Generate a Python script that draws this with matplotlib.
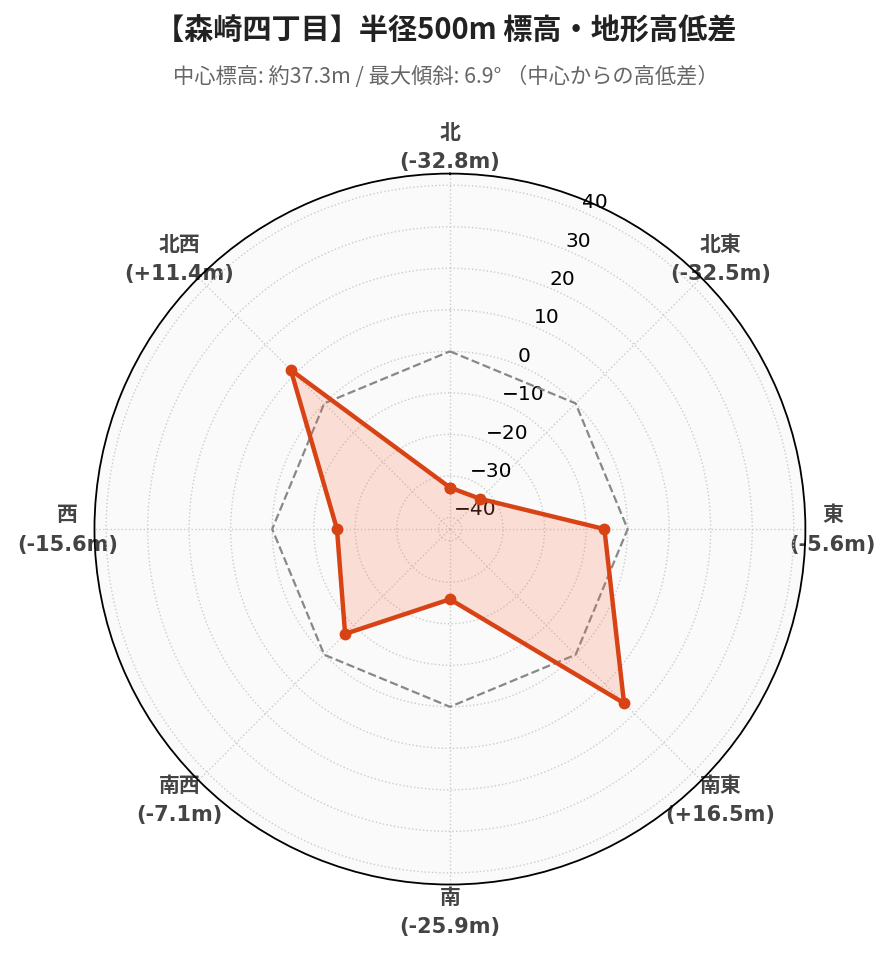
import numpy as np
import matplotlib
matplotlib.use('Agg')
import matplotlib.pyplot as plt

plt.rcParams['font.family'] = ['DejaVu Sans', 'Noto Sans CJK JP']

# data
directions = ['北', '北東', '東', '南東', '南', '南西', '西', '北西']
diffs = [-32.8, -32.5, -5.6, 16.5, -25.9, -7.1, -15.6, 11.4]
rticks = [-40, -30, -20, -10, 0, 10, 20, 30, 40]
title = '【森崎四丁目】半径500m 標高・地形高低差'
subtitle = '中心標高: 約37.3m / 最大傾斜: 6.9° （中心からの高低差）'

red = '#d84315'

fig = plt.figure(figsize=(8.92, 9.62), dpi=100)
ax = fig.add_axes([0.1059, 0.0795, 0.797, 0.739], projection='polar')
ax.set_theta_zero_location('N')
ax.set_theta_direction(-1)
ax.set_facecolor('#fafafa')

theta = np.deg2rad(np.arange(len(directions)) * 45.0)
th = np.append(theta, theta[0])
vals = np.append(diffs, diffs[0])

# zero reference ring
ax.plot(th, np.zeros_like(th), ls='--', color='#888888', lw=1.6, zorder=2)

ax.fill(th, vals, color='#ff7043', alpha=0.2, lw=0, zorder=3)
ax.plot(th, vals, color=red, lw=3.2, marker='o', ms=7.5, zorder=4)

rmax = abs(min(diffs)) + 10
ax.set_ylim(-rmax, rmax)
ax.set_yticks(rticks)
ax.set_yticklabels([f'{t}'.replace('-', '\u2212') for t in rticks], fontsize=14.5)
ax.set_rlabel_position(22.5)

labels = [f'{d}\n({v:+.1f}m)' if v > 0 else f'{d}\n({v:.1f}m)' for d, v in zip(directions, diffs)]
ax.set_xticks(theta)
ax.set_xticklabels(labels, fontsize=15, fontweight='bold', color='#444444', linespacing=1.6)
ax.tick_params(axis='x', pad=9)

ax.grid(True, ls=':', color='#cccccc', lw=1.0)
ax.spines['polar'].set_color('black')
ax.spines['polar'].set_linewidth(1.3)

fig.text(0.5, 0.969, title, ha='center', va='center', fontsize=21, fontweight='bold',
         family=['Noto Sans CJK JP', 'DejaVu Sans'], color='#222222')
fig.text(0.5, 0.920, subtitle, ha='center', va='center', fontsize=15.3,
         family=['Noto Sans CJK JP', 'DejaVu Sans'], color='#666666')

fig.savefig('out.png', dpi=100)
